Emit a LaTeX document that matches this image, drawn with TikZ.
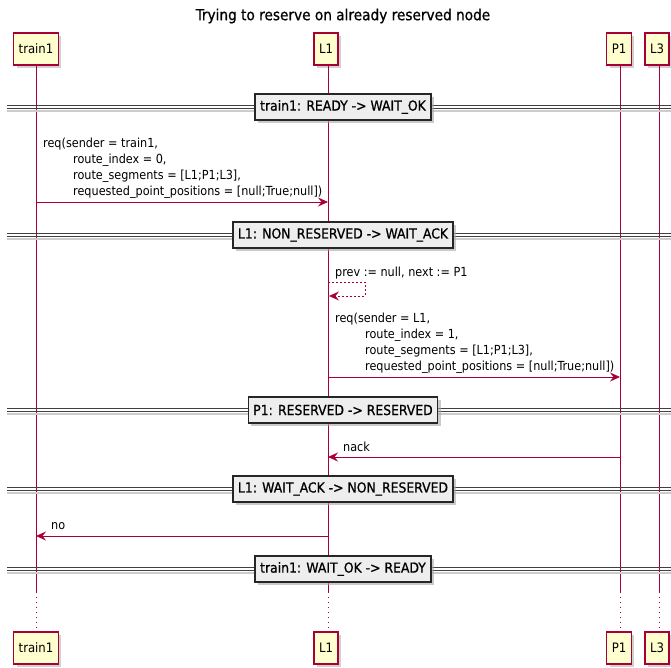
\documentclass[tikz,border=0pt]{standalone}
\usepackage{fontspec}
\setmainfont{DejaVu Sans Condensed}
\newfontfamily\medfont[FakeBold=0.8]{DejaVu Sans Condensed}
\usetikzlibrary{arrows.meta,shadows}

\definecolor{lifecol}{HTML}{A80036}
\definecolor{partfill}{HTML}{FEFECE}
\definecolor{divfill}{HTML}{EEEEEE}

\tikzset{
  partbox/.style={draw=lifecol, fill=partfill, line width=1.1pt,
    minimum height=32pt, inner xsep=5pt, inner ysep=0pt,
    font=\fontsize{13}{15}\selectfont,
    drop shadow={shadow xshift=3pt, shadow yshift=-3pt, fill=black!30, opacity=0.6}},
  lifeline/.style={draw=lifecol, line width=0.6pt},
  lifedots/.style={draw=lifecol, line width=0.6pt, dash pattern=on 1pt off 4pt},
  divline/.style={draw=black!75, line width=0.9pt},
  divshadow/.style={draw=black!20, line width=1.2pt},
  divbox/.style={draw=black!85, fill=divfill, line width=1.4pt,
    minimum height=26pt, inner xsep=5pt, inner ysep=0pt,
    font=\medfont\fontsize{13.8}{15}\selectfont,
    drop shadow={shadow xshift=3pt, shadow yshift=-3pt, fill=black!35, opacity=0.6}},
  msgtext/.style={inner sep=0pt, align=left, anchor=north west,
    font=\fontsize{12.5}{16}\selectfont},
  msg/.style={draw=lifecol, line width=0.9pt,
    -{Stealth[length=10pt, width=9pt, inset=3.5pt]}},
  selfmsg/.style={msg, dash pattern=on 2pt off 2pt},
}

\newcommand{\tabin}{\hspace*{30pt}}

\begin{document}
\begin{tikzpicture}[x=1pt, y=-1pt]
\useasboundingbox (0,0) rectangle (671,668);

% title
\node[font=\medfont\fontsize{15.2}{18}\selectfont] (title) at (343,16)
  {Trying to reserve on already reserved node};

% participants, top and bottom
\node[partbox] (t1top) at (36,49) {train1};
\node[partbox] (l1top) at (326,49) {L1};
\node[partbox] (p1top) at (619,49) {P1};
\node[partbox] (l3top) at (657,49) {L3};
\node[partbox] (t1bot) at (36,648) {train1};
\node[partbox] (l1bot) at (326,648) {L1};
\node[partbox] (p1bot) at (619,648) {P1};
\node[partbox] (l3bot) at (657,648) {L3};

% lifelines: solid, then dotted where the sequence ends
\foreach \p/\x in {t1/36, l1/328, p1/620, l3/659}{
  \coordinate (\p cut) at (\x,592);
  \draw[lifeline] (\p top.south -| \p cut) -- (\p cut);
  \draw[lifedots] (\p cut) -- (\p bot.north -| \p cut);
}

% state dividers
\foreach \n/\y/\bx/\txt in {
  d1/107/343/{train1: READY -> WAIT\_OK},
  d2/235/343/{L1: NON\_RESERVED -> WAIT\_ACK},
  d3/410/343/{P1: RESERVED -> RESERVED},
  d4/489/343/{L1: WAIT\_ACK -> NON\_RESERVED},
  d5/569/343/{train1: WAIT\_OK -> READY}}{
  \coordinate (\n w) at (7,\y);
  \coordinate (\n e) at (671,\y);
  \draw[divshadow] ([yshift=-4pt]\n w) -- ([yshift=-4pt]\n e);
  \draw[divline] ([yshift=1.6pt]\n w) -- ([yshift=1.6pt]\n e);
  \draw[divline] ([yshift=-1.6pt]\n w) -- ([yshift=-1.6pt]\n e);
  \node[divbox] (\n) at (\bx,\y) {\txt};
}

% train1 -> L1 : req
\coordinate (m1a) at (36,202);
\coordinate (m1b) at (328,202);
\node[msgtext] (m1t) at (43,138)
  {req(sender = train1,\\
   \tabin route\_index = 0,\\
   \tabin route\_segments = [L1;P1;L3],\\
   \tabin requested\_point\_positions = [null;True;null])};
\draw[msg] (m1a) -- (m1b);

% L1 self message
\coordinate (s1) at (328,282);
\coordinate (s2) at (365,282);
\coordinate (s3) at (329,296);
\node[msgtext] (s1t) at (335,267) {prev := null, next := P1};
\draw[selfmsg] (s1) -- (s2) |- (s3);

% L1 -> P1 : req
\coordinate (m2a) at (328,377);
\coordinate (m2b) at (620,377);
\node[msgtext] (m2t) at (335,313)
  {req(sender = L1,\\
   \tabin route\_index = 1,\\
   \tabin route\_segments = [L1;P1;L3],\\
   \tabin requested\_point\_positions = [null;True;null])};
\draw[msg] (m2a) -- (m2b);

% P1 -> L1 : nack
\coordinate (m3a) at (620,457);
\coordinate (m3b) at (328,457);
\node[msgtext] (m3t) at (343,442) {nack};
\draw[msg] (m3a) -- (m3b);

% L1 -> train1 : no
\coordinate (m4a) at (328,536);
\coordinate (m4b) at (36,536);
\node[msgtext] (m4t) at (51,522) {no};
\draw[msg] (m4a) -- (m4b);
\end{tikzpicture}
\end{document}
